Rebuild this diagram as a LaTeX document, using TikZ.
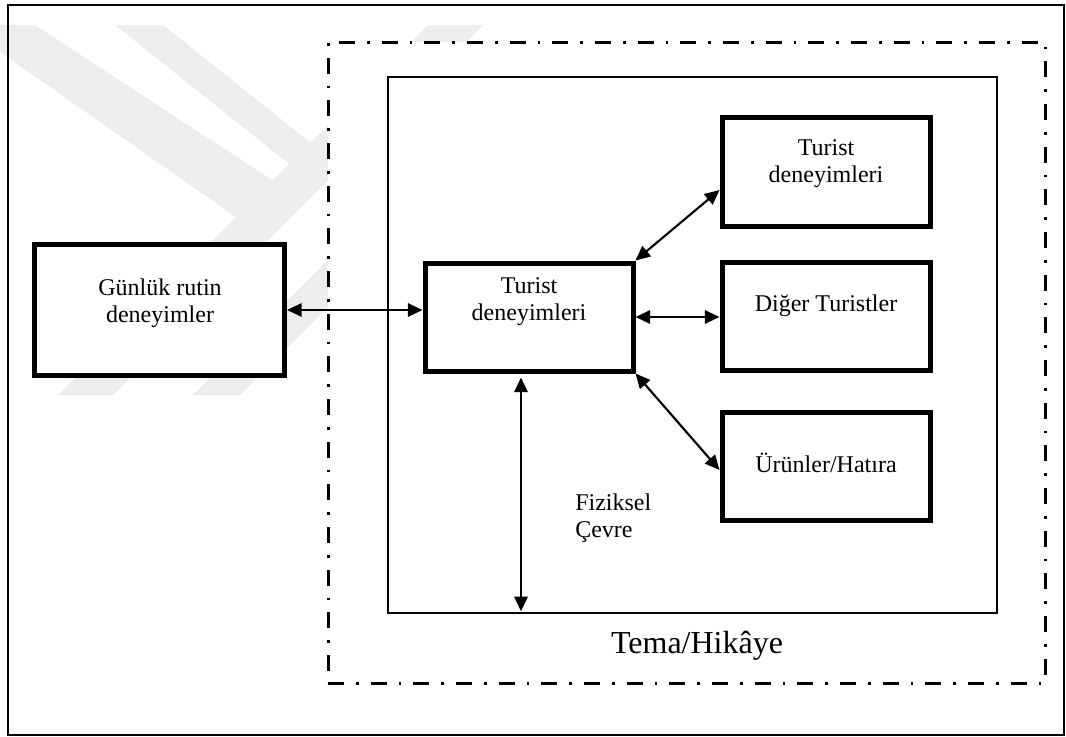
\documentclass[tikz,border=0pt]{standalone}
\usepackage{fontspec}
\setmainfont{Liberation Serif}
\usetikzlibrary{arrows.meta,calc}
\begin{document}
\begin{tikzpicture}[x=0.75pt,y=-0.75pt,
  wm/.style={fill=black!7,draw=none},
  bigbox/.style={draw,line width=3.75pt,fill=white,inner sep=0pt,minimum width=156pt,minimum height=81pt},
  txt/.style={font=\fontsize{18}{20.25}\selectfont,align=center,inner sep=0pt,anchor=base},
  link/.style={<->,>={Triangle[length=11pt,width=10pt]},line width=1.6pt},
]
\useasboundingbox (0,0) rectangle (1066,736);
% faint watermark
\fill[wm] (0,25) -- (35,25) -- (275,182) -- (243,222) -- (0,52) -- cycle;
\fill[wm] (115,25) -- (163,25) -- (331,159) -- (298,171) -- cycle;
\fill[wm] (58,395) -- (113,395) -- (483,25) -- (428,25) -- cycle;
\fill[wm] (193,395) -- (240,395) -- (420,215) -- (373,215) -- cycle;
% frames
\node[draw,line width=1.1pt,minimum width=792pt,minimum height=547.5pt,inner sep=0pt] (frame) at (536,370) {};
\node[draw,line width=2.25pt,dash pattern=on 12pt off 9pt on 2pt off 9pt,fill=white,minimum width=537.75pt,minimum height=480.75pt,inner sep=0pt] (theme) at (686.5,362.5) {};
\node[draw,line width=1.5pt,fill=white,minimum width=456.75pt,minimum height=402pt,inner sep=0pt] (inner) at (692.5,345) {};
% boxes
\node[bigbox,minimum width=187.5pt,minimum height=98.25pt] (g) at (159.5,310) {};
\node[bigbox] (c) at (529,317) {};
\node[bigbox,minimum height=81.75pt] (tr) at (826,171.5) {};
\node[bigbox] (d) at (826,316) {};
\node[bigbox] (u) at (826,466) {};
% texts (anchor base = baseline of the last line)
\node[txt] (gt) at (160,322) {Günlük rutin\\deneyimler};
\node[txt] (ct) at (529,320) {Turist\\deneyimleri};
\node[txt] (trt) at (826,182) {Turist\\deneyimleri};
\node[txt] (dt) at (826,311) {Diğer Turistler};
\node[txt] (ut) at (826,472) {Ürünler/Hatıra};
\node[txt,align=left,anchor=base west] (ft) at (575,537) {Fiziksel\\Çevre};
\node[txt,font=\fontsize{24}{28}\selectfont] (tt) at (697,653) {Tema/Hikâye};
% connectors
\coordinate (vx) at (521,0);
\draw[link] (g.east) -- (g.east -| c.west);
\draw[link] (c.east) -- (c.east -| d.west);
\draw[link] (c.north east) -- ($(tr.west)+(0,18.5)$);
\draw[link] (c.south east) -- ($(u.west)+(0,4)$);
\draw[link,shorten <=3pt,shorten >=2pt] (c.south -| vx) -- (inner.south -| vx);
\end{tikzpicture}
\end{document}
